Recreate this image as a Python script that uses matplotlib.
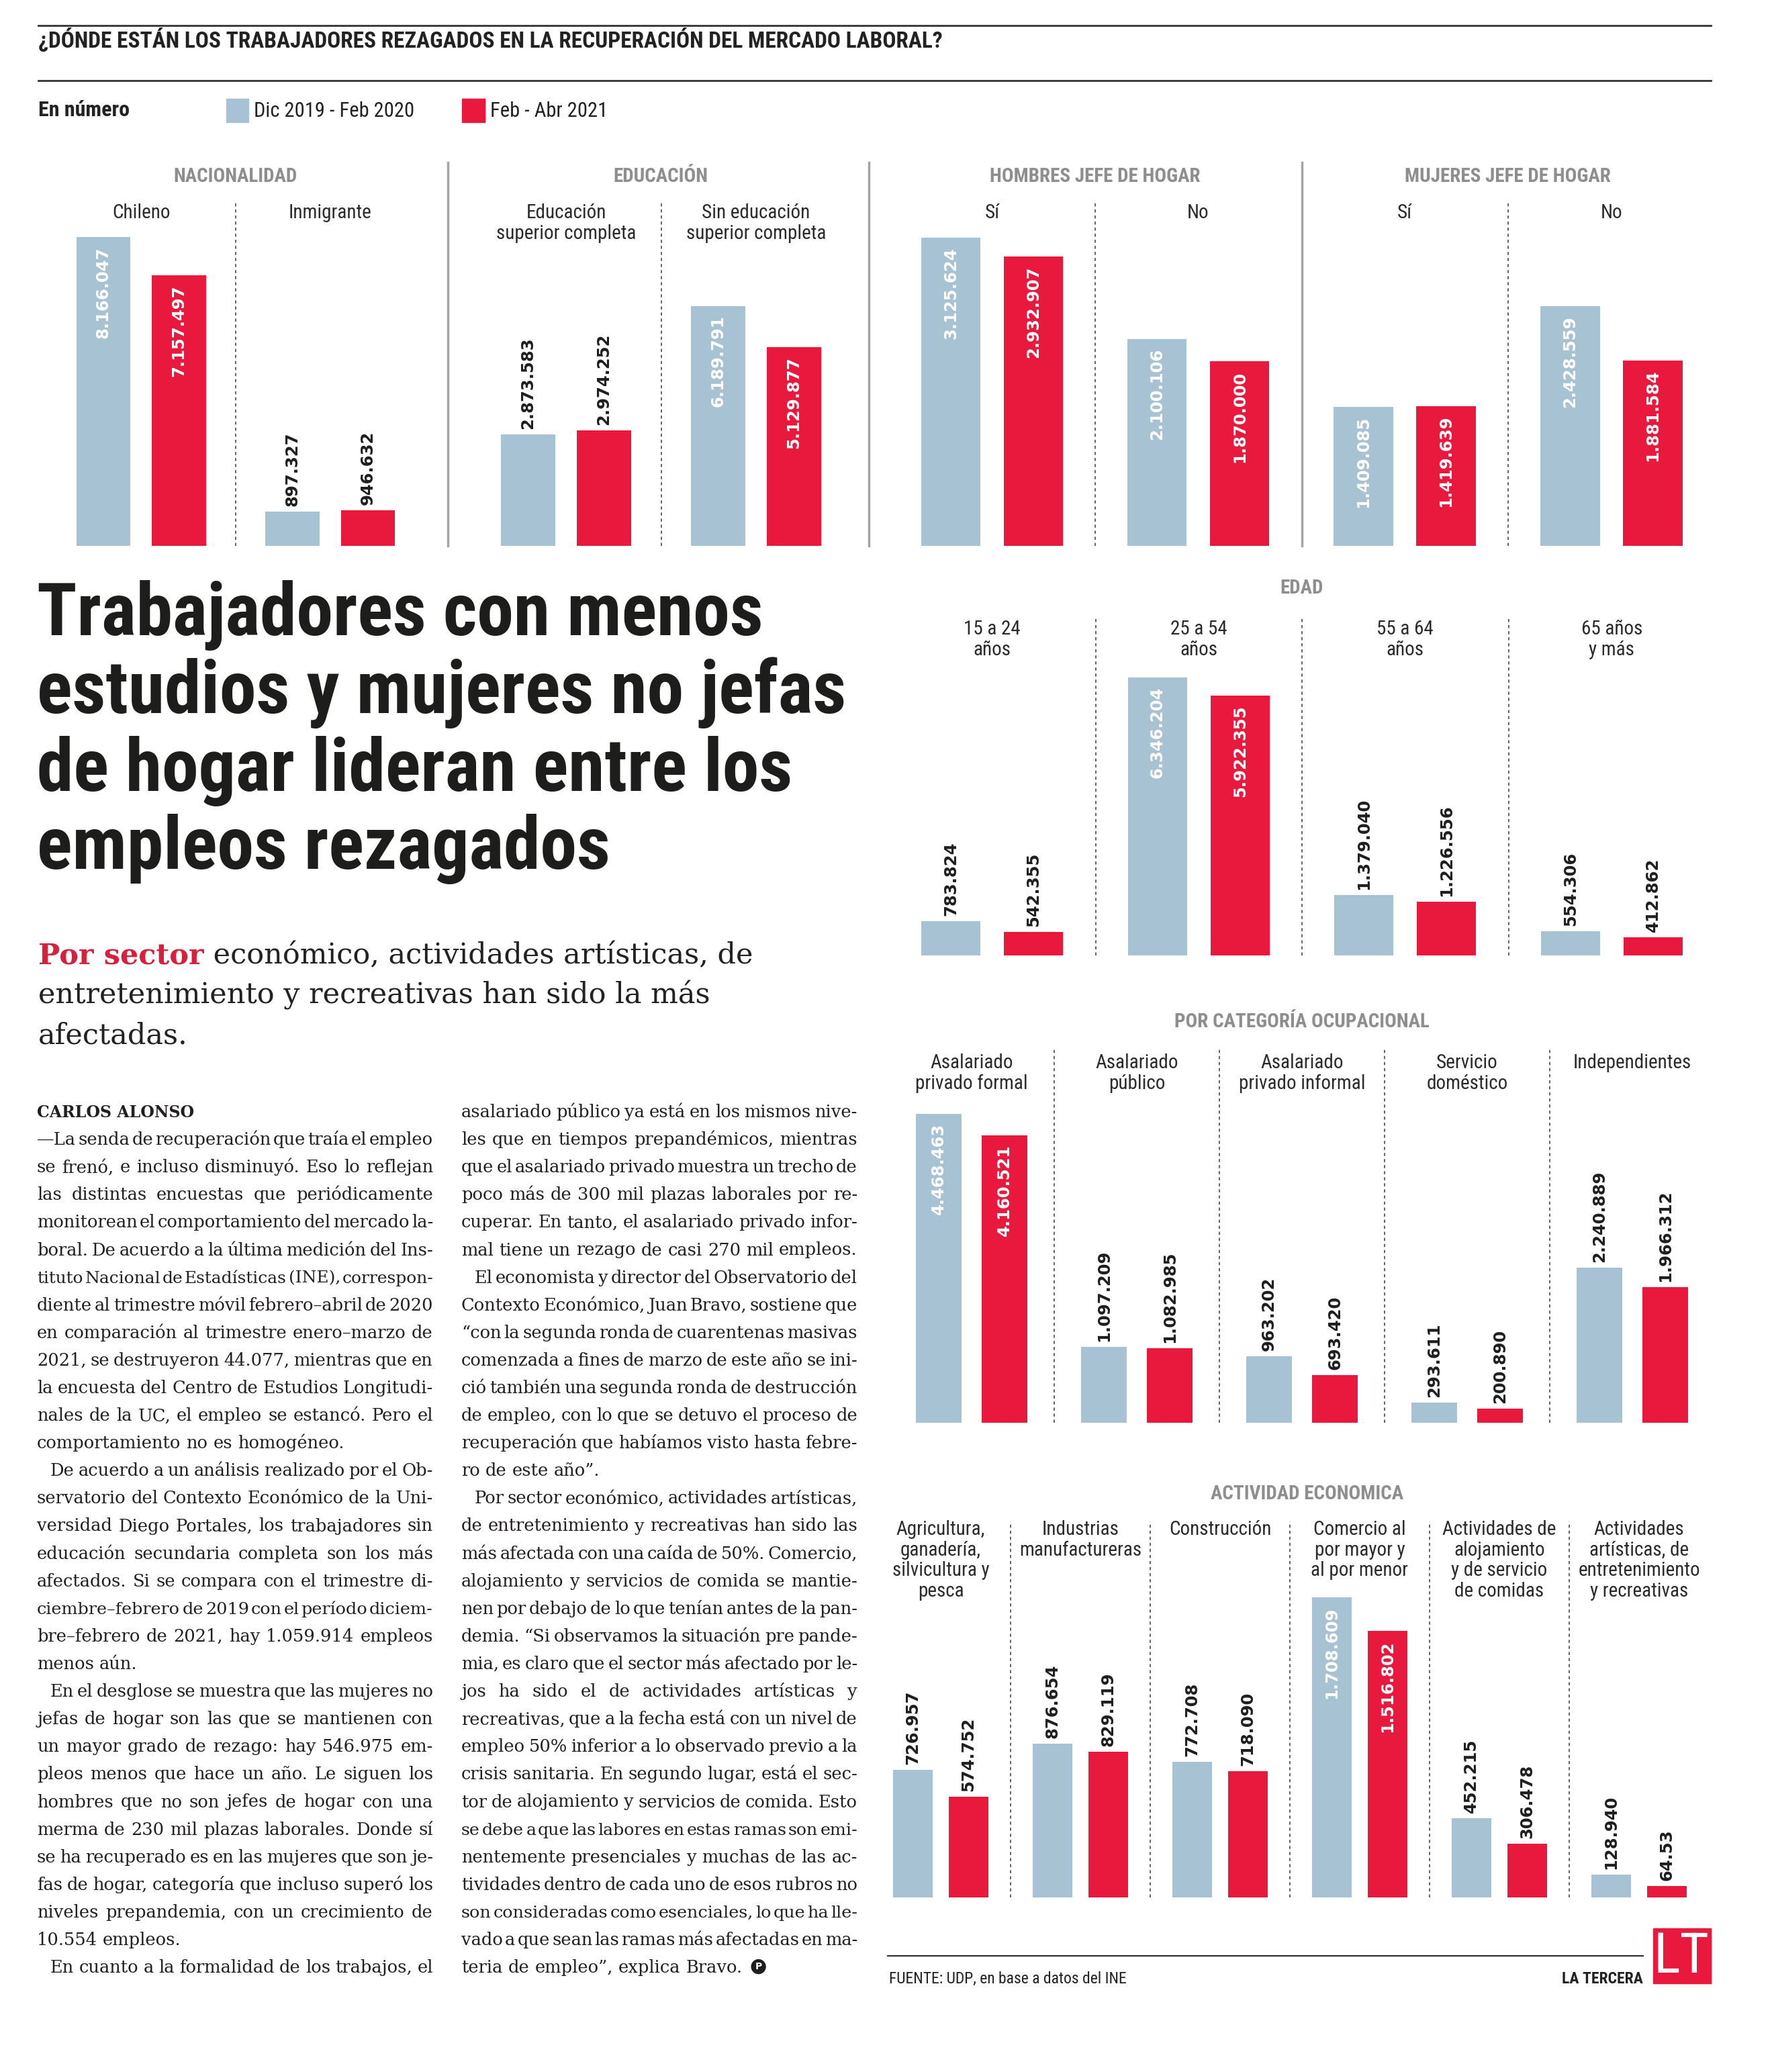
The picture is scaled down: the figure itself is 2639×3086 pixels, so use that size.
import numpy as np
import matplotlib
matplotlib.use("Agg")
import matplotlib.pyplot as plt
from matplotlib import font_manager
from matplotlib.font_manager import FontProperties
from matplotlib.lines import Line2D
from matplotlib.patches import Rectangle
from matplotlib.transforms import blended_transform_factory

# ---- data -------------------------------------------------------------
series = ["Dic 2019 - Feb 2020", "Feb - Abr 2021"]

nac_labels = ["Chileno", "Inmigrante"]
nac_2020 = [8166047, 897327]
nac_2021 = [7157497, 946632]

edu_labels = ["Educación\nsuperior completa", "Sin educación\nsuperior completa"]
edu_2020 = [2873583, 6189791]
edu_2021 = [2974252, 5129877]

hom_labels = ["Sí", "No"]
hom_2020 = [3125624, 2100106]
hom_2021 = [2932907, 1870000]

muj_labels = ["Sí", "No"]
muj_2020 = [1409085, 2428559]
muj_2021 = [1419639, 1881584]

edad_labels = ["15 a 24\naños", "25 a 54\naños", "55 a 64\naños", "65 años\ny más"]
edad_2020 = [783824, 6346204, 1379040, 554306]
edad_2021 = [542355, 5922355, 1226556, 412862]

cat_labels = ["Asalariado\nprivado formal", "Asalariado\npúblico",
              "Asalariado\nprivado informal", "Servicio\ndoméstico", "Independientes"]
cat_2020 = [4468463, 1097209, 963202, 293611, 2240889]
cat_2021 = [4160521, 1082985, 693420, 200890, 1966312]

act_labels = ["Agricultura,\nganadería,\nsilvicultura y\npesca", "Industrias\nmanufactureras",
              "Construcción", "Comercio al\npor mayor y\nal por menor",
              "Actividades de\nalojamiento\ny de servicio\nde comidas",
              "Actividades\nartísticas, de\nentretenimiento\ny recreativas"]
act_2020 = [726957, 876654, 772708, 1708609, 452215, 128940]
act_2021 = [574752, 829119, 718090, 1516802, 306478, 64530]

label_override = {64530: "64.53"}  # printed like this in the original

headline = ["Trabajadores con menos", "estudios y mujeres no jefas",
            "de hogar lideran entre los", "empleos rezagados"]
subhead = [("Por sector", " económico, actividades artísticas, de"),
           ("", "entretenimiento y recreativas han sido la más"),
           ("", "afectadas.")]

col1 = [
    "—La senda de recuperación que traía el empleo",
    "se frenó, e incluso disminuyó. Eso lo reflejan",
    "las distintas encuestas que periódicamente",
    "monitorean el comportamiento del mercado la-",
    "boral. De acuerdo a la última medición del Ins-",
    "tituto Nacional de Estadísticas (INE), correspon-",
    "diente al trimestre móvil febrero–abril de 2020",
    "en comparación al trimestre enero–marzo de",
    "2021, se destruyeron 44.077, mientras que en",
    "la encuesta del Centro de Estudios Longitudi-",
    "nales de la UC, el empleo se estancó. Pero el",
    "comportamiento no es homogéneo.",
    "¶De acuerdo a un análisis realizado por el Ob-",
    "servatorio del Contexto Económico de la Uni-",
    "versidad Diego Portales, los trabajadores sin",
    "educación secundaria completa son los más",
    "afectados. Si se compara con el trimestre di-",
    "ciembre–febrero de 2019 con el período diciem-",
    "bre–febrero de 2021, hay 1.059.914 empleos",
    "menos aún.",
    "¶En el desglose se muestra que las mujeres no",
    "jefas de hogar son las que se mantienen con",
    "un mayor grado de rezago: hay 546.975 em-",
    "pleos menos que hace un año. Le siguen los",
    "hombres que no son jefes de hogar con una",
    "merma de 230 mil plazas laborales. Donde sí",
    "se ha recuperado es en las mujeres que son je-",
    "fas de hogar, categoría que incluso superó los",
    "niveles prepandemia, con un crecimiento de",
    "10.554 empleos.",
    "¶En cuanto a la formalidad de los trabajos, el",
]
col2 = [
    "asalariado público ya está en los mismos nive-",
    "les que en tiempos prepandémicos, mientras",
    "que el asalariado privado muestra un trecho de",
    "poco más de 300 mil plazas laborales por re-",
    "cuperar. En tanto, el asalariado privado infor-",
    "mal tiene un rezago de casi 270 mil empleos.",
    "¶El economista y director del Observatorio del",
    "Contexto Económico, Juan Bravo, sostiene que",
    "“con la segunda ronda de cuarentenas masivas",
    "comenzada a fines de marzo de este año se ini-",
    "ció también una segunda ronda de destrucción",
    "de empleo, con lo que se detuvo el proceso de",
    "recuperación que habíamos visto hasta febre-",
    "ro de este año”.",
    "¶Por sector económico, actividades artísticas,",
    "de entretenimiento y recreativas han sido las",
    "más afectada con una caída de 50%. Comercio,",
    "alojamiento y servicios de comida se mantie-",
    "nen por debajo de lo que tenían antes de la pan-",
    "demia. “Si observamos la situación pre pande-",
    "mia, es claro que el sector más afectado por le-",
    "jos ha sido el de actividades artísticas y",
    "recreativas, que a la fecha está con un nivel de",
    "empleo 50% inferior a lo observado previo a la",
    "crisis sanitaria. En segundo lugar, está el sec-",
    "tor de alojamiento y servicios de comida. Esto",
    "se debe a que las labores en estas ramas son emi-",
    "nentemente presenciales y muchas de las ac-",
    "tividades dentro de cada uno de esos rubros no",
    "son consideradas como esenciales, lo que ha lle-",
    "vado a que sean las ramas más afectadas en ma-",
    "teria de empleo”, explica Bravo.",
]

# ---- style ------------------------------------------------------------
W, H = 2639, 3086
BLUE = "#a7c2d2"
RED = "#e8193c"
INK = "#222222"
GREY = "#8e8e8e"

installed = {f.name for f in font_manager.fontManager.ttflist}
narrow = next((n for n in ["Liberation Sans Narrow", "Roboto Condensed",
                           "DejaVu Sans Condensed", "Roboto"] if n in installed), "DejaVu Sans")
NARROW = [narrow, "DejaVu Sans"]
SERIF = ["DejaVu Serif"]
NUM = ["DejaVu Sans"]

fig = plt.figure(figsize=(W / 100, H / 100), dpi=100)
fig.patch.set_facecolor("white")
renderer = fig.canvas.get_renderer()


def fx(px):
    return px / W


def fy(py):
    return 1 - py / H


def hline(x0, x1, y, **kw):
    fig.add_artist(Line2D([fx(x0), fx(x1)], [fy(y), fy(y)], **kw))


def vline(x, y0, y1, **kw):
    fig.add_artist(Line2D([fx(x), fx(x)], [fy(y0), fy(y1)], **kw))


def fmt(v):
    return label_override.get(v, f"{v:,}".replace(",", "."))


def panel(x0, x1, ytop, ybase, px_per_m, cats, v20, v21, inside_frac, label_top,
          width=0.287):
    ax = fig.add_axes([fx(x0), fy(ybase), (x1 - x0) / W, (ybase - ytop) / H])
    n = len(cats)
    idx = np.arange(n)
    ax.set_xlim(-0.5, n - 0.5)
    ax.set_ylim(0, (ybase - ytop) / px_per_m * 1e6)
    ax.axis("off")
    ax.bar(idx - 0.2, v20, width=width, color=BLUE)
    ax.bar(idx + 0.2, v21, width=width, color=RED)
    for k in range(1, n):
        ax.axvline(k - 0.5, color="#555555", lw=1.3, ls=(0, (2.5, 2.5)))
    vmax = max(max(v20), max(v21))
    for xs, vals in ((idx - 0.2, v20), (idx + 0.2, v21)):
        for x, v in zip(xs, vals):
            inside = v >= inside_frac * vmax
            ax.annotate(fmt(v), (x, v), xytext=(0, -14 if inside else 8),
                        textcoords="offset pixels", rotation=90, ha="center",
                        va="top" if inside else "bottom",
                        color="white" if inside else "#1e1e1e",
                        family=NUM, weight="bold", fontsize=17.5)
    tr = blended_transform_factory(ax.transData, fig.transFigure)
    for k, lab in enumerate(cats):
        ax.text(k, fy(label_top), lab, transform=tr, ha="center", va="top",
                family=NARROW, fontsize=21, color="#2b2b2b", linespacing=1.12)
    return ax


# ---- header -----------------------------------------------------------
hline(57, 2548, 38, color="#333333", lw=2)
hline(57, 2548, 120, color="#333333", lw=2)
fig.text(fx(57), fy(60), "¿DÓNDE ESTÁN LOS TRABAJADORES REZAGADOS EN LA RECUPERACIÓN DEL MERCADO LABORAL?",
         family=NARROW, weight="bold", fontsize=24, color=INK, va="center")
fig.text(fx(57), fy(164), "En número", family=NARROW, weight="bold", fontsize=23,
         color=INK, va="center")
for (px0, px1), col, name in zip([(337, 370), (688, 722)], [BLUE, RED], series):
    fig.add_artist(Rectangle((fx(px0), fy(182)), (px1 - px0) / W, 35 / H,
                             transform=fig.transFigure, color=col))
    fig.text(fx(px1 + 8), fy(165), name, family=NARROW, fontsize=22, color=INK, va="center")

# ---- top row ----------------------------------------------------------
panel(69.5, 632.5, 301, 813, 56.3, nac_labels, nac_2020, nac_2021, 0.6, 303)
panel(701.5, 1267.5, 301, 813, 57.7, edu_labels, edu_2020, edu_2021, 0.6, 303)
panel(1324, 1938, 301, 813, 146.8, hom_labels, hom_2020, hom_2021, 0.5, 303)
panel(1938, 2554, 301, 813, 146.8, muj_labels, muj_2020, muj_2021, 0.5, 303)
for x in (667, 1294, 1939):
    vline(x, 242, 813, color="#a5a5a5", lw=2.5)
for x, name in [(351, "NACIONALIDAD"), (984, "EDUCACIÓN"),
                (1631, "HOMBRES JEFE DE HOGAR"), (2245, "MUJERES JEFE DE HOGAR")]:
    fig.text(fx(x), fy(263), name, family=NARROW, weight="bold", fontsize=21,
             color=GREY, ha="center", va="center")

# ---- right column -----------------------------------------------------
fig.text(fx(1939), fy(876), "EDAD", family=NARROW, weight="bold", fontsize=21,
         color=GREY, ha="center", va="center")
panel(1324, 2554, 921, 1423, 65.3, edad_labels, edad_2020, edad_2021, 0.6, 923)

fig.text(fx(1939), fy(1522), "POR CATEGORÍA OCUPACIONAL", family=NARROW, weight="bold",
         fontsize=21, color=GREY, ha="center", va="center")
panel(1324, 2554, 1563, 2119, 102.9, cat_labels, cat_2020, cat_2021, 0.6, 1569, width=0.276)

fig.text(fx(1947), fy(2225), "ACTIVIDAD ECONOMICA", family=NARROW, weight="bold",
         fontsize=21, color=GREY, ha="center", va="center")
panel(1297, 2545, 2266, 2826, 261.5, act_labels, act_2020, act_2021, 0.6, 2264, width=0.284)

# ---- footer -----------------------------------------------------------
hline(1322, 2447, 2913, color="#333333", lw=1.6)
fig.text(fx(1324), fy(2947), "FUENTE: UDP, en base a datos del INE", family=NARROW,
         fontsize=17, color=INK, va="center")
fig.text(fx(2447), fy(2947), "LA TERCERA", family=NARROW, weight="bold", fontsize=17,
         color=INK, va="center", ha="right")
fig.add_artist(Rectangle((fx(2462), fy(2954)), 86 / W, 82 / H, transform=fig.transFigure,
                         color=RED))
fig.text(fx(2504), fy(2915), "LT", family=NARROW, fontsize=60, color="white",
         ha="center", va="center")

# ---- headline & subhead ----------------------------------------------
for k, line in enumerate(headline):
    fig.text(fx(55), fy(946 + 116 * k), line, family=NARROW, weight="bold",
             fontsize=79, color="#1d1d1b", va="baseline")

sub_fp = FontProperties(family=SERIF, size=31)
sub_bold = FontProperties(family=SERIF, size=31, weight="bold")
for k, (red_part, rest) in enumerate(subhead):
    y = fy(1435 + 60 * k)
    x = 57
    if red_part:
        fig.text(fx(x), y, red_part, fontproperties=sub_bold, color="#d6213d", va="baseline")
        x += renderer.get_text_width_height_descent(red_part, sub_bold, ismath=False)[0]
    fig.text(fx(x), y, rest, fontproperties=sub_fp, color=INK, va="baseline")

# ---- body text (justified by hand) -----------------------------------
BODY_Y0, BODY_STEP, BODY_FS, INDENT = 1664, 41.1, 18.5, 20


def width_of(s, fp):
    return renderer.get_text_width_height_descent(s, fp, ismath=False)[0]


def set_column(lines, x0, x1, row0, ends):
    end_x = x0
    for k, line in enumerate(lines):
        indent = line.startswith("¶")
        words = line.lstrip("¶").split(" ")
        nxt = lines[k + 1] if k + 1 < len(lines) else None
        last = (nxt is not None and nxt.startswith("¶")) or (nxt is None and ends)
        y = BODY_Y0 + (row0 + k) * BODY_STEP
        left = x0 + (INDENT if indent else 0)
        fp = FontProperties(family=SERIF, size=BODY_FS)
        ws = [width_of(w, fp) for w in words]
        space = width_of("a a", fp) - width_of("aa", fp)
        avail = x1 - left
        gap = space
        if len(words) > 1 and (not last or sum(ws) + space * (len(words) - 1) > avail):
            gap = (avail - sum(ws)) / (len(words) - 1)
            if gap < 0.35 * space:
                scale = avail / (sum(ws) + 0.35 * space * (len(words) - 1))
                fp = FontProperties(family=SERIF, size=BODY_FS * scale)
                ws = [w * scale for w in ws]
                gap = 0.35 * space * scale
            if last:
                gap = min(gap, space)
        x = left
        for w, wd in zip(words, ws):
            fig.text(fx(x), fy(y), w, fontproperties=fp, color="#231f20", va="baseline")
            x += wd + gap
        end_x = x - gap
    return end_x


fig.text(fx(55), fy(BODY_Y0), "CARLOS ALONSO", family=SERIF, weight="bold", fontsize=17,
         color="#231f20", va="baseline")
set_column(col1, 55, 645, 1, ends=False)
end = set_column(col2, 687, 1277, 0, ends=True)
fig.text(fx(end + 24), fy(BODY_Y0 + 31 * BODY_STEP - 9), "P", color="white", fontsize=10,
         family=NUM, weight="bold", ha="center", va="center",
         bbox=dict(boxstyle="circle,pad=0.3", fc="#1e1e1e", ec="none"))

fig.savefig("out.png", dpi=100, facecolor="white")
